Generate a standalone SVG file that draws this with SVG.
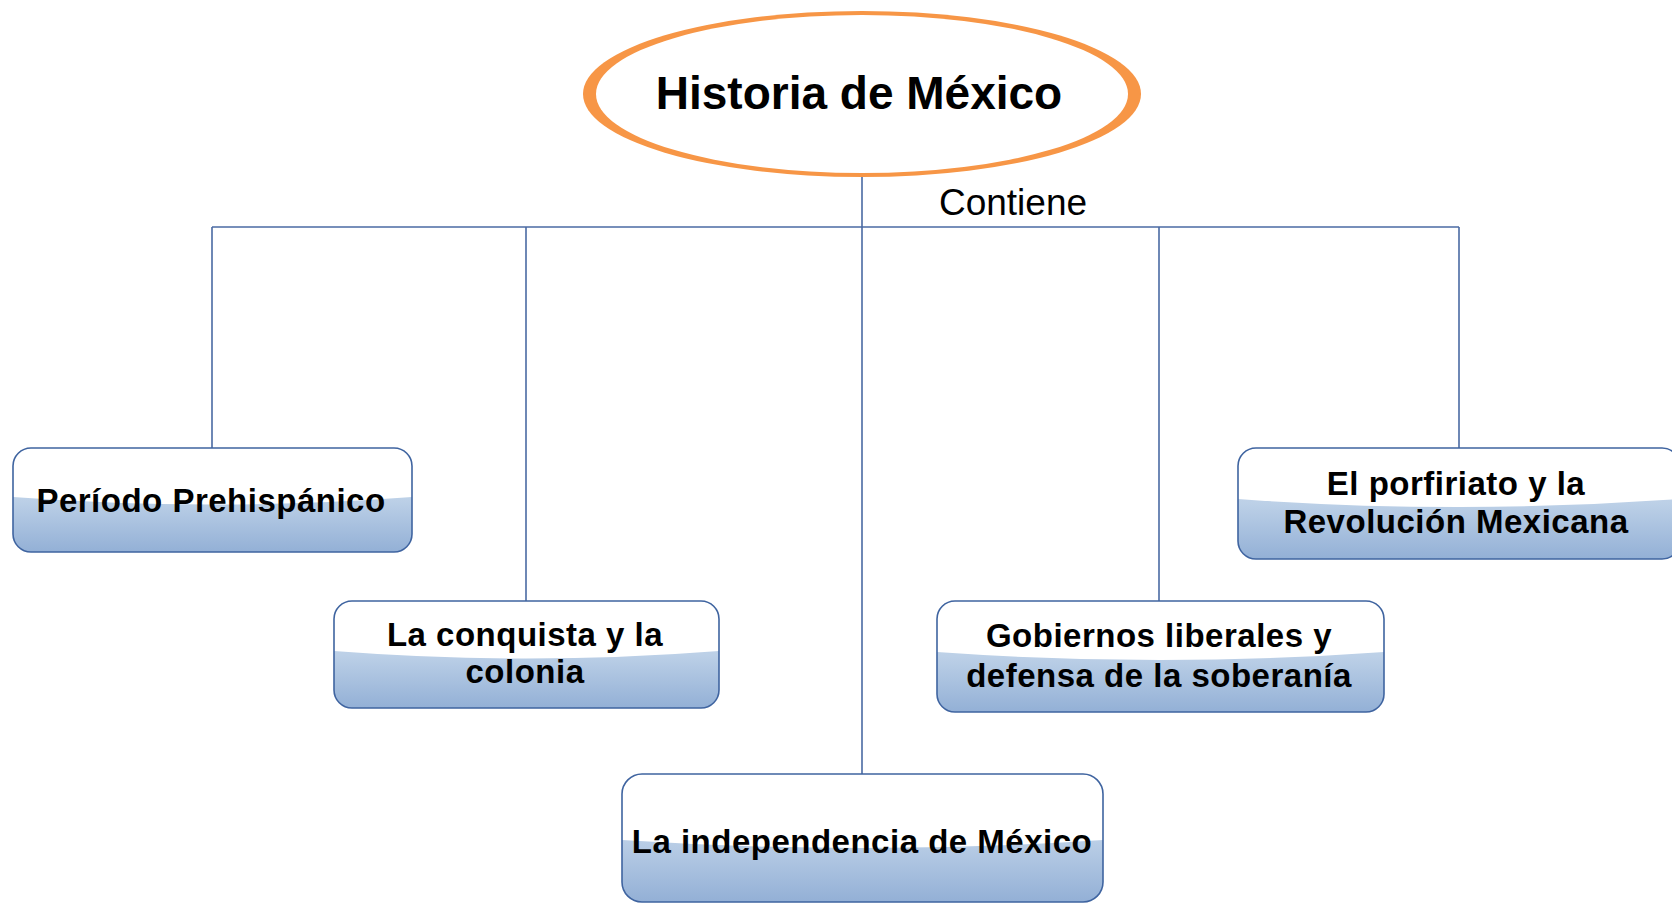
<svg xmlns="http://www.w3.org/2000/svg" width="1672" height="905" viewBox="0 0 1672 905">
<style>
.conn{stroke:#4a6aa3;stroke-width:1.6;fill:none}
.box{fill:url(#blueGrad)}
.gloss{fill:#ffffff}
.edge{fill:none;stroke:#3f64a0;stroke-width:1.6}
.lbl{font-family:"Liberation Sans",Arial,sans-serif;font-weight:bold;font-size:33px;letter-spacing:0.5px;fill:#000;text-anchor:middle}
</style>
<defs>
<linearGradient id="blueGrad" x1="0" y1="0" x2="0" y2="1">
<stop offset="0" stop-color="#d3e0f0"/>
<stop offset="0.5" stop-color="#bcd0e7"/>
<stop offset="1" stop-color="#93b0d6"/>
</linearGradient>
</defs>
<rect width="1672" height="905" fill="#ffffff"/>
<g id="connectors">
<line class="conn" x1="862" y1="177" x2="862" y2="774"/>
<line class="conn" x1="212" y1="227" x2="1459" y2="227"/>
<line class="conn" x1="212" y1="227" x2="212" y2="448"/>
<line class="conn" x1="526" y1="227" x2="526" y2="601"/>
<line class="conn" x1="1159" y1="227" x2="1159" y2="601"/>
<line class="conn" x1="1459" y1="227" x2="1459" y2="448"/>
<text x="1013" y="215" font-family="Liberation Sans, Arial, sans-serif" font-size="37" text-anchor="middle" fill="#000">Contiene</text>
</g>
<g id="root">
<ellipse cx="862" cy="94" rx="279" ry="83" fill="#f79646"/>
<ellipse cx="862" cy="94" rx="266" ry="79" fill="#ffffff"/>
<text x="859" y="109" font-family="Liberation Sans, Arial, sans-serif" font-weight="bold" font-size="46" text-anchor="middle" fill="#000">Historia de México</text>
</g>
<g id="n1">
<rect class="box" x="13" y="448" width="399" height="104" rx="18"/>
<path class="gloss" d="M13,497 L13,466 Q13,448 31,448 L394,448 Q412,448 412,466 L412,497 Q212.5,512 13,497 Z"/>
<rect class="edge" x="13" y="448" width="399" height="104" rx="18"/>
<text class="lbl" x="211" y="512">Período Prehispánico</text>
</g>
<g id="n2">
<rect class="box" x="334" y="601" width="385" height="107" rx="18"/>
<path class="gloss" d="M334,651 L334,619 Q334,601 352,601 L701,601 Q719,601 719,619 L719,651 Q526.5,666 334,651 Z"/>
<rect class="edge" x="334" y="601" width="385" height="107" rx="18"/>
<text class="lbl" x="525" y="646">La conquista y la</text>
<text class="lbl" x="525" y="683">colonia</text>
</g>
<g id="n3">
<rect class="box" x="622" y="774" width="481" height="128" rx="20"/>
<path class="gloss" d="M622,840 L622,794 Q622,774 642,774 L1083,774 Q1103,774 1103,794 L1103,840 Q862.5,856 622,840 Z"/>
<rect class="edge" x="622" y="774" width="481" height="128" rx="20"/>
<text class="lbl" x="862" y="853">La independencia de México</text>
</g>
<g id="n4">
<rect class="box" x="937" y="601" width="447" height="111" rx="18"/>
<path class="gloss" d="M937,652 L937,619 Q937,601 955,601 L1366,601 Q1384,601 1384,619 L1384,652 Q1160.5,668 937,652 Z"/>
<rect class="edge" x="937" y="601" width="447" height="111" rx="18"/>
<text class="lbl" x="1159" y="647">Gobiernos liberales y</text>
<text class="lbl" x="1159" y="687">defensa de la soberanía</text>
</g>
<g id="n5">
<rect class="box" x="1238" y="448" width="442" height="111" rx="18"/>
<path class="gloss" d="M1238,499 L1238,466 Q1238,448 1256,448 L1662,448 Q1680,448 1680,466 L1680,499 Q1459,515 1238,499 Z"/>
<rect class="edge" x="1238" y="448" width="442" height="111" rx="18"/>
<text class="lbl" x="1456" y="495">El porfiriato y la</text>
<text class="lbl" x="1456" y="533">Revolución Mexicana</text>
</g>
</svg>
